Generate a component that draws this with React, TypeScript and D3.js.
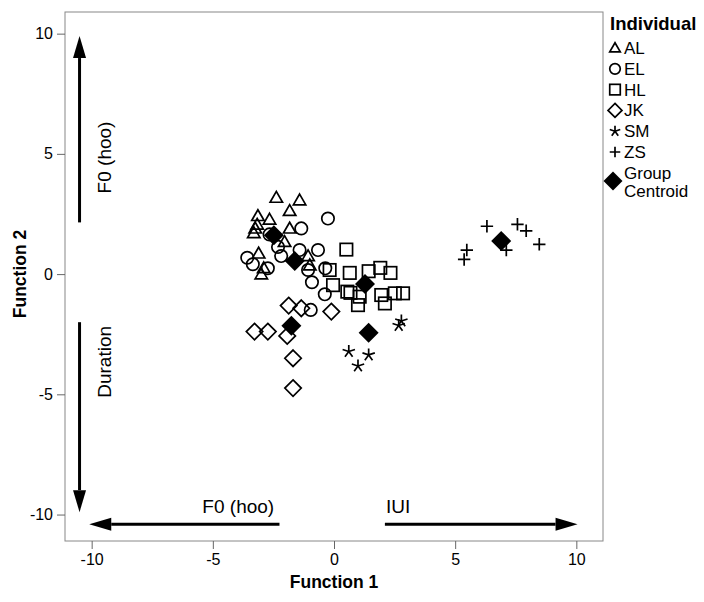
import React, { useEffect, useRef } from 'react';
import * as d3 from 'd3';

// discriminant scores: [function1, function2]
const AL = [[-2.38, 3.18], [-1.42, 3.07], [-1.83, 2.63], [-3.14, 2.42], [-2.66, 2.27], [-3.17, 2.06], [-3.25, 1.9], [-3.31, 1.71], [-1.83, 1.9], [-2.04, 1.34], [-3.11, 0.86], [-1.07, 0.75], [-2.9, 0.25], [-3.0, -0.01], [-1.0, 0.37]];
const EL = [[-0.25, 2.31], [-1.35, 1.9], [-2.66, 1.65], [-2.31, 1.13], [-0.66, 1.0], [-1.42, 1.0], [-2.18, 0.75], [-3.58, 0.68], [-3.35, 0.41], [-2.73, 0.24], [-1.07, 0.17], [-0.36, 0.24], [-0.91, -0.34], [-0.38, -0.84], [-0.96, -1.49]];
const HL = [[0.51, 1.02], [-0.18, 0.17], [0.65, 0.05], [1.43, 0.12], [1.91, 0.26], [2.33, 0.05], [-0.04, -0.46], [0.55, -0.73], [0.68, -0.78], [1.06, -0.94], [0.99, -1.29], [1.95, -0.87], [2.1, -1.22], [2.51, -0.8], [2.85, -0.8]];
const JK = [[-1.87, -1.31], [-1.35, -1.42], [-0.11, -1.56], [-3.28, -2.39], [-2.73, -2.39], [-1.93, -2.57], [-1.69, -3.5], [-1.69, -4.74]];
const SM = [[0.61, -3.22], [1.43, -3.36], [0.99, -3.82], [2.78, -1.95], [2.67, -2.14]];
const ZS = [[6.31, 1.99], [7.57, 2.07], [7.93, 1.8], [8.47, 1.24], [7.11, 1.0], [5.48, 1.0], [5.37, 0.61]];
const CENTROIDS = [[-2.48, 1.62], [-1.62, 0.54], [1.28, -0.41], [-1.76, -2.15], [1.43, -2.44], [6.9, 1.38]];

const GROUPS = ['AL', 'EL', 'HL', 'JK', 'SM', 'ZS'];
const GROUP_POINTS = [AL, EL, HL, JK, SM, ZS];
const SHAPES = ['triangle', 'circle', 'square', 'diamond', 'star', 'plus'];
const TICKS = [-10, -5, 0, 5, 10];

// loading arrows [x1, y1, x2, y2] and their labels [text, x, y, vertical]
const ARROWS: [number, number, number, number][] = [[-10.5, 2.15, -10.5, 9.9], [-10.5, -2.0, -10.5, -9.9], [-2.25, -10.4, -10.1, -10.4], [2.1, -10.4, 10.05, -10.4]];
const ARROW_LABELS: [string, number, number, boolean][] = [['F0 (hoo)', -9.55, 4.85, true], ['Duration', -9.55, -3.65, true], ['F0 (hoo)', -3.95, -9.95, false], ['IUI', 2.65, -9.95, false]];

const FONT = 'Liberation Sans, Arial, sans-serif';

function drawShape(g: any, shape: string, x: number, y: number, s = 1) {
  const sw = 1.7;
  if (shape === 'circle') {
    g.append('circle').attr('cx', x).attr('cy', y).attr('r', 6.2 * s).attr('fill', 'none').attr('stroke', '#000').attr('stroke-width', sw);
  } else if (shape === 'square') {
    const h = 6.2 * s;
    g.append('rect').attr('x', x - h).attr('y', y - h).attr('width', 2 * h).attr('height', 2 * h).attr('fill', 'none').attr('stroke', '#000').attr('stroke-width', sw);
  } else if (shape === 'triangle') {
    const w = 6.2 * s;
    g.append('path').attr('d', `M${x},${y - 6.2 * s}L${x + w},${y + 4.6 * s}L${x - w},${y + 4.6 * s}Z`).attr('fill', 'none').attr('stroke', '#000').attr('stroke-width', sw);
  } else if (shape === 'diamond') {
    const h = 8.2 * s;
    g.append('path').attr('d', `M${x},${y - h}L${x + h},${y}L${x},${y + h}L${x - h},${y}Z`).attr('fill', 'none').attr('stroke', '#000').attr('stroke-width', sw);
  } else if (shape === 'plus') {
    const h = 6.2 * s;
    g.append('path').attr('d', `M${x - h},${y}L${x + h},${y}M${x},${y - h}L${x},${y + h}`).attr('stroke', '#000').attr('stroke-width', sw);
  } else if (shape === 'star') {
    const h = 6.5 * s;
    let d = '';
    for (let i = 0; i < 5; i++) {
      const a = -Math.PI / 2 + (i * 2 * Math.PI) / 5;
      d += `M${x},${y}L${x + h * Math.cos(a)},${y + h * Math.sin(a)}`;
    }
    g.append('path').attr('d', d).attr('stroke', '#000').attr('stroke-width', sw);
  } else if (shape === 'centroid') {
    const h = 10 * s;
    g.append('path').attr('d', `M${x},${y - h}L${x + h},${y}L${x},${y + h}L${x - h},${y}Z`).attr('fill', '#000');
  }
}

export default function App() {
  const ref = useRef<SVGSVGElement>(null);

  useEffect(() => {
    const svg = d3.select(ref.current);
    svg.selectAll('*').remove();

    const x = d3.scaleLinear().domain([-11.1, 11.1]).range([65, 603]);
    const y = d3.scaleLinear().domain([-11.1, 10.9]).range([541, 12]);

    svg.append('rect').attr('width', 704).attr('height', 602).attr('fill', '#fff');

    // frame
    svg.append('rect').attr('x', 65).attr('y', 12).attr('width', 538).attr('height', 529)
      .attr('fill', 'none').attr('stroke', '#888').attr('stroke-width', 1);

    // axes
    const fmt = (d: any) => String(d);
    const xAxis = svg.append('g').attr('transform', 'translate(0,541)')
      .call(d3.axisBottom(x).tickValues(TICKS).tickFormat(fmt).tickSize(8).tickPadding(5).tickSizeOuter(0));
    const yAxis = svg.append('g').attr('transform', 'translate(65,0)')
      .call(d3.axisLeft(y).tickValues(TICKS).tickFormat(fmt).tickSize(8).tickPadding(4).tickSizeOuter(0));
    [xAxis, yAxis].forEach(a => {
      a.select('.domain').remove();
      a.selectAll('line').attr('stroke', '#666');
      a.selectAll('text').attr('font-family', FONT).attr('font-size', 16).attr('fill', '#000');
    });

    svg.append('text').attr('x', 334).attr('y', 588).attr('text-anchor', 'middle')
      .attr('font-family', FONT).attr('font-size', 17.5).attr('font-weight', 'bold').text('Function 1');
    svg.append('text').attr('transform', 'translate(26,274) rotate(-90)').attr('text-anchor', 'middle')
      .attr('font-family', FONT).attr('font-size', 17.5).attr('font-weight', 'bold').text('Function 2');

    // arrows
    ARROWS.forEach(([x1, y1, x2, y2]) => {
      const px1 = x(x1), py1 = y(y1), px2 = x(x2), py2 = y(y2);
      const ang = Math.atan2(py2 - py1, px2 - px1);
      const L = 22, W = 6.5;
      const bx = px2 - L * Math.cos(ang), by = py2 - L * Math.sin(ang);
      svg.append('line').attr('x1', px1).attr('y1', py1).attr('x2', bx).attr('y2', by)
        .attr('stroke', '#000').attr('stroke-width', 3);
      svg.append('path')
        .attr('d', `M${px2},${py2}L${bx - W * Math.sin(ang)},${by + W * Math.cos(ang)}L${bx + W * Math.sin(ang)},${by - W * Math.cos(ang)}Z`)
        .attr('fill', '#000');
    });
    ARROW_LABELS.forEach(([t, lx, ly, vert]) => {
      const tx = svg.append('text').attr('font-family', FONT).attr('font-size', 19).attr('text-anchor', 'middle').text(t);
      if (vert) tx.attr('transform', `translate(${x(lx) + 8},${y(ly)}) rotate(-90)`);
      else tx.attr('x', x(lx)).attr('y', y(ly));
    });

    // points
    const pts = svg.append('g');
    GROUP_POINTS.forEach((arr, i) => {
      arr.forEach(([a, b]) => drawShape(pts, SHAPES[i], x(a), y(b)));
    });
    CENTROIDS.forEach(([a, b]) => drawShape(pts, 'centroid', x(a), y(b)));

    // legend
    const lg = svg.append('g');
    lg.append('text').attr('x', 610).attr('y', 30).attr('font-family', FONT).attr('font-size', 18.5)
      .attr('font-weight', 'bold').text('Individual');
    GROUPS.forEach((name, i) => {
      const cy = 48 + i * 20.8;
      drawShape(lg, SHAPES[i], 615, cy, 0.85);
      lg.append('text').attr('x', 624).attr('y', cy + 6).attr('font-family', FONT).attr('font-size', 17).text(name);
    });
    drawShape(lg, 'centroid', 613, 181, 0.95);
    lg.append('text').attr('x', 624).attr('y', 179).attr('font-family', FONT).attr('font-size', 17).text('Group');
    lg.append('text').attr('x', 624).attr('y', 197).attr('font-family', FONT).attr('font-size', 17).text('Centroid');
  }, []);

  return (
    <svg ref={ref} width={704} height={602} style={{ position: 'absolute', left: 0, top: 0 }} />
  );
}
